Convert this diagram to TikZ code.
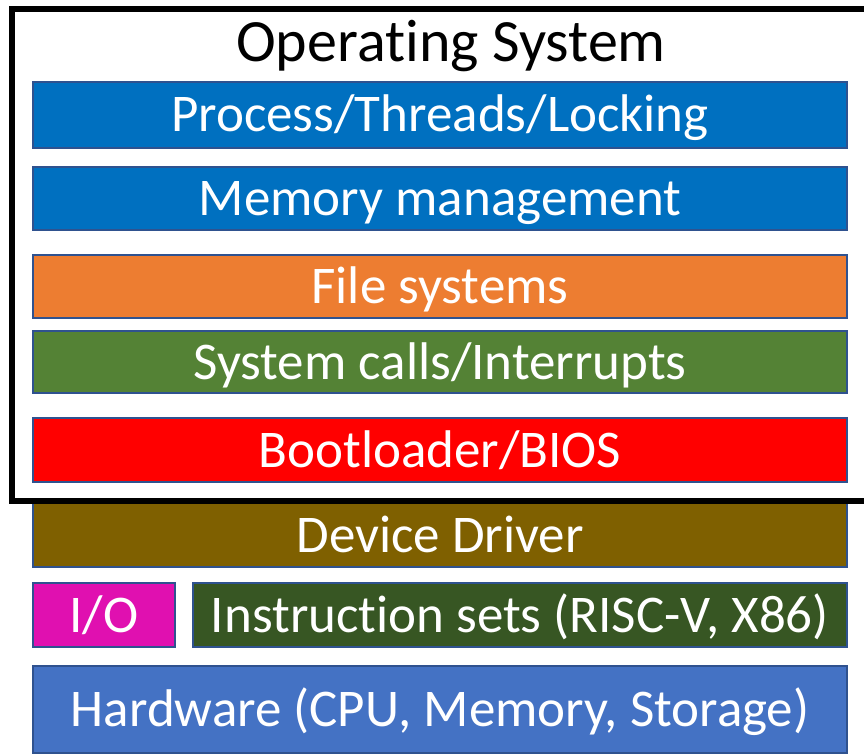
\documentclass[tikz,border=0pt]{standalone}
\usepackage{fontspec}
\setmainfont[Ligatures=NoCommon]{Carlito}
\definecolor{procblue}{HTML}{0070C0}
\definecolor{fsorange}{HTML}{ED7D31}
\definecolor{scgreen}{HTML}{548235}
\definecolor{bootred}{HTML}{FF0000}
\definecolor{drvbrown}{HTML}{7F6000}
\definecolor{iopink}{HTML}{E010B0}
\definecolor{isagreen}{HTML}{375623}
\definecolor{hwblue}{HTML}{4472C4}
\definecolor{edgeblue}{HTML}{2F528F}
\begin{document}
\begin{tikzpicture}
[x=1pt,y=-1pt]
\tikzset{bar/.style={draw=edgeblue,line width=1.2pt,minimum width=814pt,minimum height=64pt,
  inner sep=0pt,text=white,font=\fontsize{53}{61}\selectfont,text height=34pt,text depth=0pt}}
\tikzset{ttl/.style={inner sep=0pt,anchor=base,font=\fontsize{60}{68}\selectfont}}
\useasboundingbox (0,0) rectangle (864,754);
\node [bar,fill=procblue,minimum height=66pt] (proc) at (440,115) {Process/Threads/Locking};
\node [bar,fill=procblue,minimum height=63pt] (mem) at (440,198.5) {Memory management};
\node [bar,fill=fsorange,minimum height=63pt] (fs) at (440,286.5) {File systems};
\node [bar,fill=scgreen,minimum height=62pt] (sc) at (440,362) {System calls/Interrupts};
\node [bar,fill=bootred] (boot) at (440,450) {Bootloader/BIOS};
\node [bar,fill=drvbrown] (drv) at (440,535) {Device Driver};
\node [bar,fill=iopink,minimum width=142pt] (io) at (104,615) {I/O};
\node [bar,fill=isagreen,minimum width=654pt] (isa) at (520,615) {Instruction sets (RISC-V, X86)};
\node [bar,fill=hwblue,minimum height=87pt] (hw) at (440,709.5) {Hardware (CPU, Memory, Storage)};

\draw [line width=6pt] (880,9) -- (12,9) -- (12,501) -- (880,501);
\node [ttl] (os) at (451,62) {Operating System};

\end{tikzpicture}
\end{document}
